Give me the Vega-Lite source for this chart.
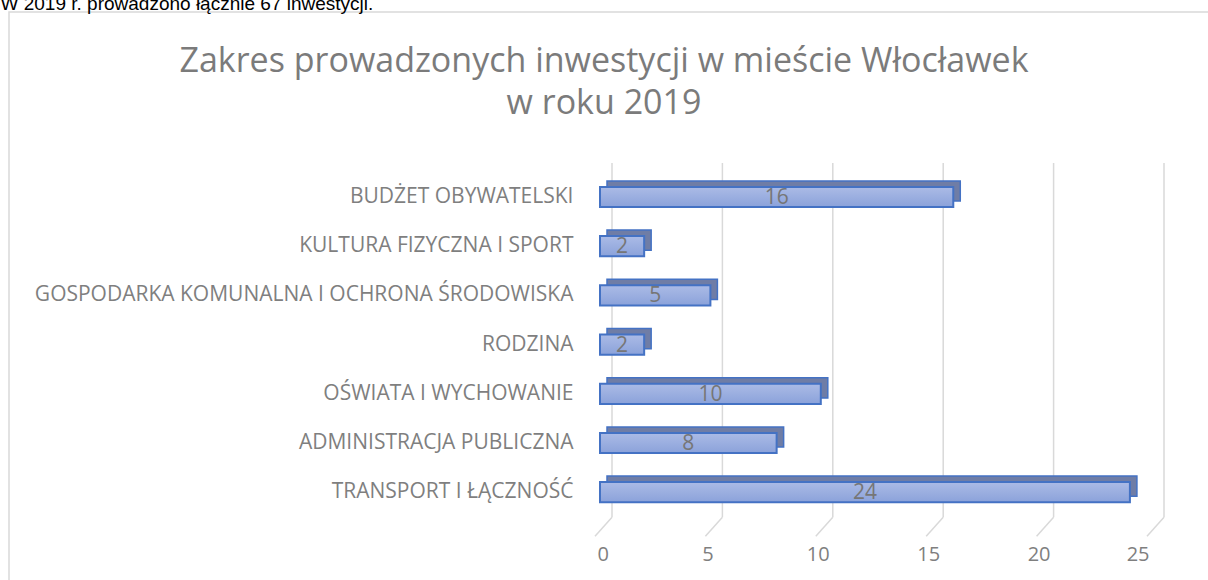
{
  "$schema": "https://vega.github.io/schema/vega-lite/v6.json",
  "width": 1210,
  "height": 575,
  "autosize": {"type": "none"},
  "padding": {"left": 9, "top": 12, "right": 0, "bottom": 0},
  "background": "white",
  "config": {"view": {"stroke": "#d9d9d9", "strokeWidth": 1.5}, "font": "Open Sans"},
  "title": {
    "text": ["Zakres prowadzonych inwestycji w mieście Włocławek", "w roku 2019"],
    "font": "Open Sans",
    "fontSize": 34,
    "fontWeight": "normal",
    "color": "#7b7b7b",
    "lineHeight": 42,
    "offset": -127,
    "anchor": "middle",
    "frame": "group",
    "dx": -10
  },
  "datasets": {
    "ticks": [{"t": 0}, {"t": 5}, {"t": 10}, {"t": 15}, {"t": 20}, {"t": 25}]
  },
  "data": {
    "values": [
      {"kategoria": "BUDŻET OBYWATELSKI", "liczba": 16},
      {"kategoria": "KULTURA FIZYCZNA I SPORT", "liczba": 2},
      {"kategoria": "GOSPODARKA KOMUNALNA I OCHRONA ŚRODOWISKA", "liczba": 5},
      {"kategoria": "RODZINA", "liczba": 2},
      {"kategoria": "OŚWIATA I WYCHOWANIE", "liczba": 10},
      {"kategoria": "ADMINISTRACJA PUBLICZNA", "liczba": 8},
      {"kategoria": "TRANSPORT I ŁĄCZNOŚĆ", "liczba": 24}
    ]
  },
  "layer": [
    {
      "data": {"name": "ticks"},
      "mark": {"type": "rule", "color": "#d9d9d9", "strokeWidth": 1.5, "xOffset": 12, "yOffset": -34, "y2Offset": 25},
      "encoding": {
        "x": {"field": "t", "type": "quantitative", "title": null},
        "y": {"datum": "BUDŻET OBYWATELSKI", "type": "nominal"},
        "y2": {"datum": "TRANSPORT I ŁĄCZNOŚĆ"}
      }
    },
    {
      "data": {"name": "ticks"},
      "mark": {"type": "rule", "color": "#d9d9d9", "strokeWidth": 1.5, "xOffset": 12, "x2Offset": -5, "yOffset": 25, "y2Offset": 44},
      "encoding": {
        "x": {"field": "t", "type": "quantitative", "title": null},
        "x2": {"field": "t"},
        "y": {"datum": "TRANSPORT I ŁĄCZNOŚĆ", "type": "nominal"},
        "y2": {"datum": "TRANSPORT I ŁĄCZNOŚĆ"}
      }
    },
    {
      "mark": {"type": "bar", "orient": "horizontal", "fill": "#6f7da6", "stroke": "#4472c4", "strokeWidth": 1.5, "xOffset": 7, "x2Offset": 7, "yOffset": -6},
      "encoding": {
        "x": {"field": "liczba", "type": "quantitative", "title": null},
        "y": {"field": "kategoria", "type": "nominal"}
      }
    },
    {
      "mark": {
        "type": "bar",
        "orient": "horizontal",
        "stroke": "#4472c4",
        "strokeWidth": 2,
        "fill": {
          "gradient": "linear", "x1": 0, "y1": 0, "x2": 0, "y2": 1,
          "stops": [{"offset": 0, "color": "#abbbe6"}, {"offset": 1, "color": "#8ba2da"}]
        }
      },
      "encoding": {
        "x": {
          "field": "liczba",
          "type": "quantitative",
          "title": null,
          "scale": {"domain": [0, 25], "range": [591, 1143], "nice": false, "zero": true},
          "axis": {
            "orient": "bottom", "offset": -57, "values": [0, 5, 10, 15, 20, 25],
            "domain": false, "ticks": false, "grid": false, "labelPadding": 14, "labelOffset": -3,
            "labelFont": "Open Sans", "labelFontSize": 20, "labelColor": "#7f7f7f", "title": null
          }
        },
        "y": {
          "field": "kategoria",
          "type": "nominal",
          "scale": {
            "domain": ["BUDŻET OBYWATELSKI", "KULTURA FIZYCZNA I SPORT", "GOSPODARKA KOMUNALNA I OCHRONA ŚRODOWISKA", "RODZINA", "OŚWIATA I WYCHOWANIE", "ADMINISTRACJA PUBLICZNA", "TRANSPORT I ŁĄCZNOŚĆ"],
            "range": [160.4, 504.8], "paddingInner": 0.59, "paddingOuter": 0.295
          },
          "axis": {
            "orient": "left", "offset": -591, "domain": false, "ticks": false, "grid": false,
            "labelPadding": 27, "labelLimit": 700, "labelFont": "Open Sans", "labelFontSize": 21, "labelColor": "#7f7f7f",
            "title": "W 2019 r. prowadzono łącznie 67 inwestycji.",
            "titleAngle": 0, "titleAlign": "left", "titleBaseline": "alphabetic", "titleX": -600, "titleY": -3,
            "titleFont": "Liberation Sans", "titleFontSize": 19, "titleFontWeight": "normal", "titleColor": "#000000"
          }
        }
      }
    },
    {
      "mark": {"type": "text", "font": "Open Sans", "fontSize": 21, "color": "#767676", "align": "center", "baseline": "middle", "dy": 1},
      "encoding": {
        "x": {"field": "liczba", "type": "quantitative", "stack": "zero", "bandPosition": 0.5, "title": null},
        "y": {"field": "kategoria", "type": "nominal"},
        "text": {"field": "liczba", "type": "quantitative"}
      }
    }
  ]
}
